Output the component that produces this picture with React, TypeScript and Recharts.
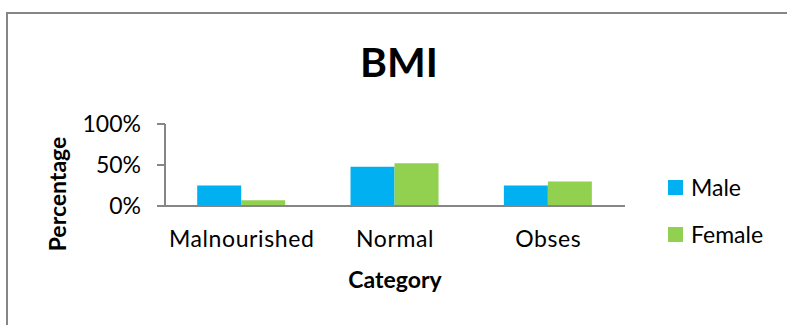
import { BarChart, Bar, XAxis, YAxis } from "recharts";

const categories = ["Malnourished", "Normal", "Obses"];
const maleValues = [0.25, 0.48, 0.25];
const femaleValues = [0.07, 0.52, 0.3];
const yTicks = [0, 0.5, 1];

const data = categories.map((c, i) => ({
  category: c,
  male: maleValues[i],
  female: femaleValues[i],
}));

const FONT = "Lato, 'Open Sans', sans-serif";
const AXIS = "#868686";

function LegendBox() {
  const items = [
    { name: "Male", color: "#00B0F0" },
    { name: "Female", color: "#92D050" },
  ];
  return (
    <div style={{ position: "absolute", left: 668, top: 175 }}>
      {items.map((it) => (
        <div
          key={it.name}
          style={{ display: "flex", alignItems: "center", height: 24, marginBottom: 23 }}
        >
          <div style={{ width: 15, height: 15, background: it.color, marginRight: 8 }} />
          <span style={{ fontFamily: FONT, fontSize: 23, color: "#000" }}>{it.name}</span>
        </div>
      ))}
    </div>
  );
}

function PercentLabel() {
  return (
    <text
      x={57}
      y={194}
      transform="rotate(-90 57 194)"
      textAnchor="middle"
      dominantBaseline="central"
      fill="#000"
      fontSize={23}
      fontWeight={700}
      fontFamily={FONT}
    >
      Percentage
    </text>
  );
}

export default function App() {
  return (
    <div
      style={{
        position: "absolute",
        left: 0,
        top: 0,
        width: 787,
        height: 325,
        background: "#fff",
        overflow: "hidden",
      }}
    >
      <div
        style={{
          position: "absolute",
          left: 6,
          top: 12,
          width: 800,
          height: 340,
          border: `2px solid ${AXIS}`,
          boxSizing: "border-box",
        }}
      />
      <div
        style={{
          position: "absolute",
          left: 0,
          width: 798,
          top: 37,
          textAlign: "center",
          fontFamily: FONT,
          fontWeight: 700,
          fontSize: 41,
          color: "#000",
          lineHeight: "50px",
        }}
      >
        BMI
      </div>
      <div style={{ position: "absolute", left: 0, top: 0 }}>
        <BarChart
          width={787}
          height={325}
          data={data}
          margin={{ top: 124, right: 162, bottom: 0, left: 0 }}
          barCategoryGap="21%"
          barGap={0}
        >
          <XAxis
            dataKey="category"
            stroke={AXIS}
            strokeWidth={2}
            tickLine={false}
            tickMargin={19}
            tick={{ fill: "#000", fontSize: 23, fontFamily: FONT, letterSpacing: 0.6 }}
            height={119}
            label={{
              value: "Category",
              position: "insideTop",
              offset: 66,
              fill: "#000",
              fontSize: 23,
              fontWeight: 700,
              fontFamily: FONT,
            }}
          />
          <YAxis
            domain={[0, 1]}
            ticks={yTicks}
            interval={0}
            tickFormatter={(v: number) => `${Math.round(v * 100)}%`}
            stroke={AXIS}
            strokeWidth={2}
            tickSize={8}
            tickMargin={16}
            width={165}
            tick={{ fill: "#000", fontSize: 23, fontFamily: FONT }}
            label={{ content: PercentLabel }}
          />
          <Bar dataKey="male" fill="#00B0F0" isAnimationActive={false} />
          <Bar dataKey="female" fill="#92D050" isAnimationActive={false} />
        </BarChart>
      </div>
      <LegendBox />
    </div>
  );
}
